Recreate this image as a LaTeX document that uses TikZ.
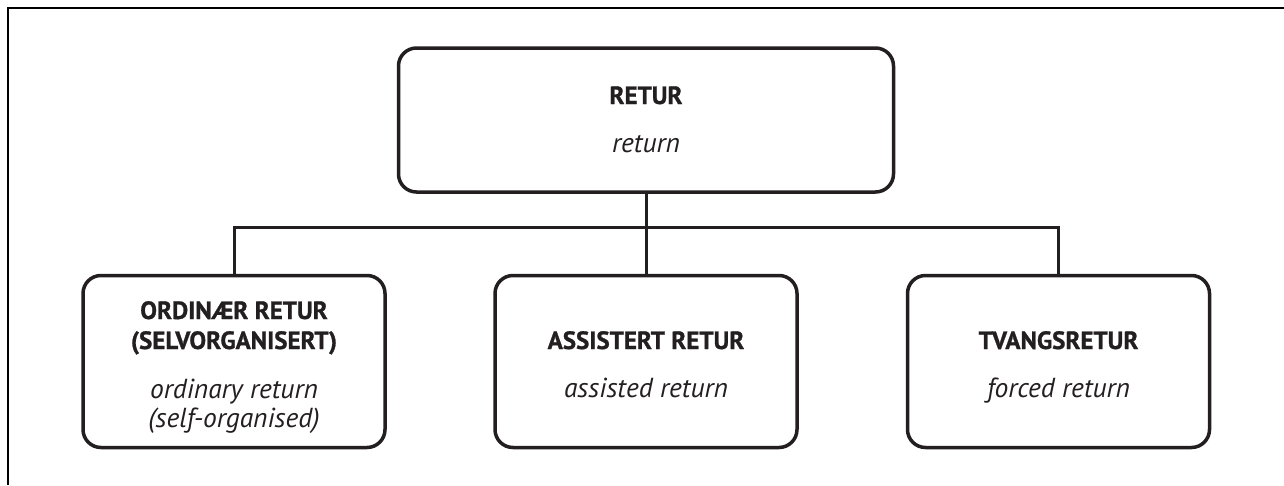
\documentclass[tikz,border=0pt]{standalone}
\usepackage{fontspec}
\setmainfont{PT Sans}[BoldFeatures={FakeBold=1}]
\definecolor{ink}{HTML}{231F20}
\begin{document}
\begin{tikzpicture}[x=1pt,y=-1pt,
  box/.style={draw=ink, line width=3.5pt, rounded corners=18pt, inner sep=0pt},
  topbox/.style={box, minimum width=495pt, minimum height=144pt},
  subbox/.style={box, minimum width=302pt, minimum height=172pt},
  link/.style={draw=ink, line width=3pt},
  head/.style={font=\fontsize{25}{30}\selectfont\bfseries, text=ink, anchor=base, inner sep=0pt},
  sub/.style={font=\fontsize{27.5}{30}\selectfont\itshape, text=ink, anchor=base, inner sep=0pt},
  frame/.style={draw=black, line width=2pt}]
\useasboundingbox (0,0) rectangle (1284,485);
\draw[frame] (7.5,485) -- (7.5,7.5) -- (1284,7.5);

\node[topbox] (top) at (646,120) {};
\node[subbox] (left) at (234,361.5) {};
\node[subbox] (mid) at (646,361.5) {};
\node[subbox] (right) at (1058.5,361.5) {};

\node[head] (t1) at (646,104) {RETUR};
\node[sub]  (t2) at (646,152) {return};

\node[head] (l1) at (234,319) {ORDINÆR RETUR};
\node[head] (l2) at (234,349) {(SELVORGANISERT)};
\node[sub]  (l3) at (234,398) {ordinary return};
\node[sub]  (l4) at (234,427) {(self-organised)};

\node[head] (m1) at (646,349) {ASSISTERT RETUR};
\node[sub]  (m2) at (646,397) {assisted return};

\node[head] (r1) at (1058.5,349) {TVANGSRETUR};
\node[sub]  (r2) at (1058.5,397) {forced return};

\coordinate (bus) at (646,227);
\draw[link] (top.south) -- (mid.north);
\draw[link] (left.north) -- (left.north |- bus) -- (right.north |- bus) -- (right.north);
\end{tikzpicture}
\end{document}
